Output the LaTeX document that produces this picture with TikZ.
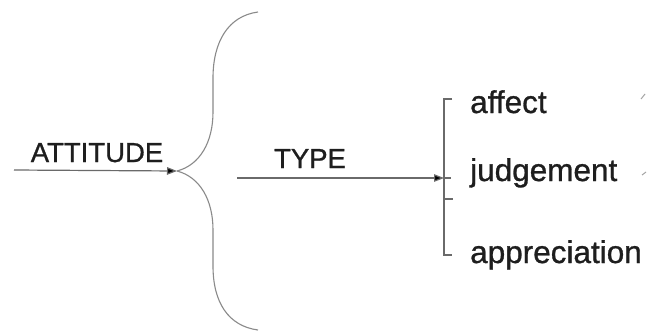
\documentclass[tikz,border=0pt]{standalone}
\usepackage{fontspec}
\setmainfont{Liberation Sans}
\newfontfamily\labelfont{Liberation Sans}[FakeBold=0.9]
\usetikzlibrary{arrows.meta,calc}
\definecolor{linegrey}{HTML}{6A6A6A}
\definecolor{bracegrey}{HTML}{8A8A8A}
\definecolor{inkdark}{HTML}{1E1E1E}
\begin{document}
\begin{tikzpicture}[x=1pt,y=-1pt,
  conn/.style={draw=linegrey,line width=1.2pt},
  tip/.style={-{Triangle[length=10pt,width=7.5pt,fill=black]}},
  caplabel/.style={inner sep=0pt,text=inkdark,font=\labelfont\fontsize{27.5}{29}\selectfont},
  itemlabel/.style={inner sep=0pt,text=inkdark,font=\labelfont\fontsize{31.5}{33}\selectfont,anchor=base west}]
\useasboundingbox (0,0) rectangle (647,333);
\fill[white] (0,0) rectangle (647,333);

% labels
\node[caplabel,anchor=base] (attitude) at (97,162) {ATTITUDE};
\node[caplabel,anchor=base] (type) at (310,168) {TYPE};
\node[itemlabel] (affect) at (470,113) {affect};
\node[itemlabel] (judgement) at (470,181) {judgement};
\node[itemlabel] (appreciation) at (470,263) {appreciation};

% brace
\coordinate (bracetip) at (177,171);
\coordinate (bracetop) at (258,12);
\coordinate (bracebot) at (258,330);
\draw[draw=bracegrey,line width=1.1pt] (bracetip) .. controls (200,165) and (213,142) .. (213,112)
  -- (213,78) .. controls (213,42) and (228,16) .. (bracetop);
\draw[draw=bracegrey,line width=1.1pt] (bracetip) .. controls (200,177) and (213,200) .. (213,230)
  -- (213,266) .. controls (213,302) and (228,326) .. (bracebot);

% incoming arrow
\coordinate (attstart) at (14,170);
\draw[conn,tip] (attstart) -- (bracetip);

% bracket of the three items
\coordinate (brtop) at (444,99);
\coordinate (brbot) at (444,255);
\coordinate (brmid) at (444,199);
\draw[conn,line width=1.4pt] ($(brtop)+(8,0)$) -- (brtop) -- (brbot) -- ($(brbot)+(8,0)$);
\draw[conn,line width=1.4pt] (brmid) -- ++(9,0);

% TYPE arrow
\coordinate (typestart) at (237,178);
\coordinate (typeend) at (444,178);
\draw[conn,tip] (typestart) -- (typeend);
\draw[conn] (typeend) -- ++(7,0);

% cut-off marks at the right edge
\draw[linegrey!60,line width=1pt] (641,99) -- (645,94);
\draw[linegrey!60,line width=1pt] (642,175) -- (646,172);
\end{tikzpicture}
\end{document}
